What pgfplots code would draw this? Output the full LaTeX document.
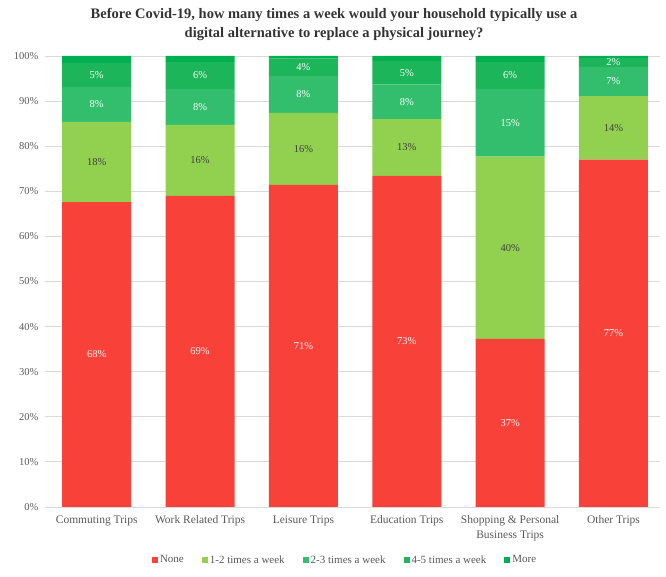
\documentclass[border=0pt]{standalone}
\usepackage{pgfplots}
\usepackage{pgfplotstable}
\pgfplotsset{compat=1.18}
\usepackage{fontspec}
\setmainfont{Liberation Serif}
\definecolor{cNone}{RGB}{248,65,57}
\definecolor{cOne}{RGB}{146,208,80}
\definecolor{cTwo}{RGB}{51,190,110}
\definecolor{cFour}{RGB}{28,181,89}
\definecolor{cMore}{RGB}{0,176,80}
\definecolor{tickgray}{RGB}{89,89,89}
\definecolor{gridgray}{RGB}{217,217,217}
\pgfplotstableread{
x None One Two Four More
0 67.6 17.8 7.7 5.3 1.6
1 69.0 15.7 8.0 6.0 1.3
2 71.4 16.0 8.2 3.8 0.6
3 73.4 12.6 7.7 5.2 1.1
4 37.3 40.4 15.0 6.0 1.3
5 77.0 14.1 6.5 2.0 0.4
}\datatable
\begin{document}
\begin{tikzpicture}
\useasboundingbox (-45pt,-70pt) rectangle (621pt,507pt);
\begin{axis}[
  name=ax, at={(0,0)}, anchor=south west,
  scale only axis, width=615pt, height=451pt,
  ybar stacked, bar width=69pt,
  xmin=-0.5, xmax=5.45, ymin=0, ymax=100,
  xtick={0,...,5},
  xticklabels={Commuting Trips,Work Related Trips,Leisure Trips,Education Trips,{Shopping \& Personal\\Business Trips},Other Trips},
  xticklabel style={align=center, font=\fontsize{11.5}{15}\selectfont, text=tickgray, yshift=-5pt},
  ytick={0,10,...,100},
  yticklabel={\pgfmathprintnumber{\tick}\%},
  /pgf/number format/assume math mode=true,
  yticklabel style={font=\fontsize{10.5}{11}\selectfont, text=tickgray, xshift=-3pt},
  ymajorgrids, grid style={gridgray, line width=0.8pt},
  axis line style={draw=none},
  major tick length=0pt,
  every axis plot/.append style={draw=none},
  legend style={at={(0.488,-0.1175)}, anchor=center, draw=none, legend columns=-1,
    font=\fontsize{11}{12}\selectfont, text=tickgray,
    /tikz/every even column/.append style={column sep=16pt}},
  legend image code/.code={\fill[#1] (0pt,-3pt) rectangle (6pt,3pt);},
]
\addplot[fill=cNone] table[x=x,y=None]{\datatable};
\addplot[fill=cOne] table[x=x,y=One]{\datatable};
\addplot[fill=cTwo] table[x=x,y=Two]{\datatable};
\addplot[fill=cFour] table[x=x,y=Four]{\datatable};
\addplot[fill=cMore] table[x=x,y=More]{\datatable};
\legend{None,1-2 times a week,2-3 times a week,4-5 times a week,More}
\end{axis}
\begin{axis}[
  at={(0,0)}, anchor=south west,
  scale only axis, width=615pt, height=451pt,
  xmin=-0.5, xmax=5.45, ymin=0, ymax=100,
  axis lines=none, ticks=none,
  nodes near coords, point meta=explicit symbolic,
  every node near coord/.append style={anchor=center, font=\fontsize{10.5}{11}\selectfont},
]
\addplot[draw=none, mark=none, nodes near coords style={text=white}] coordinates {
 (0,33.8)[68\%] (1,34.5)[69\%] (2,35.7)[71\%] (3,36.7)[73\%] (4,18.65)[37\%] (5,38.5)[77\%]
 (0,89.25)[8\%] (1,88.7)[8\%] (2,91.5)[8\%] (3,89.85)[8\%] (4,85.2)[15\%] (5,94.35)[7\%]
 (0,95.75)[5\%] (1,95.7)[6\%] (2,97.5)[4\%] (3,96.3)[5\%] (4,95.7)[6\%] (5,98.6)[2\%]
};
\addplot[draw=none, mark=none, nodes near coords style={text=black!75}] coordinates {
 (0,76.5)[18\%] (1,76.85)[16\%] (2,79.4)[16\%] (3,79.7)[13\%] (4,57.5)[40\%] (5,84.05)[14\%]
};
\end{axis}
\node[font=\bfseries\fontsize{14.5}{19}\selectfont, text=black!80, align=center] at (289pt,482pt)
 {Before Covid-19, how many times a week would your household typically use a\\digital alternative to replace a physical journey?};
\end{tikzpicture}
\end{document}
